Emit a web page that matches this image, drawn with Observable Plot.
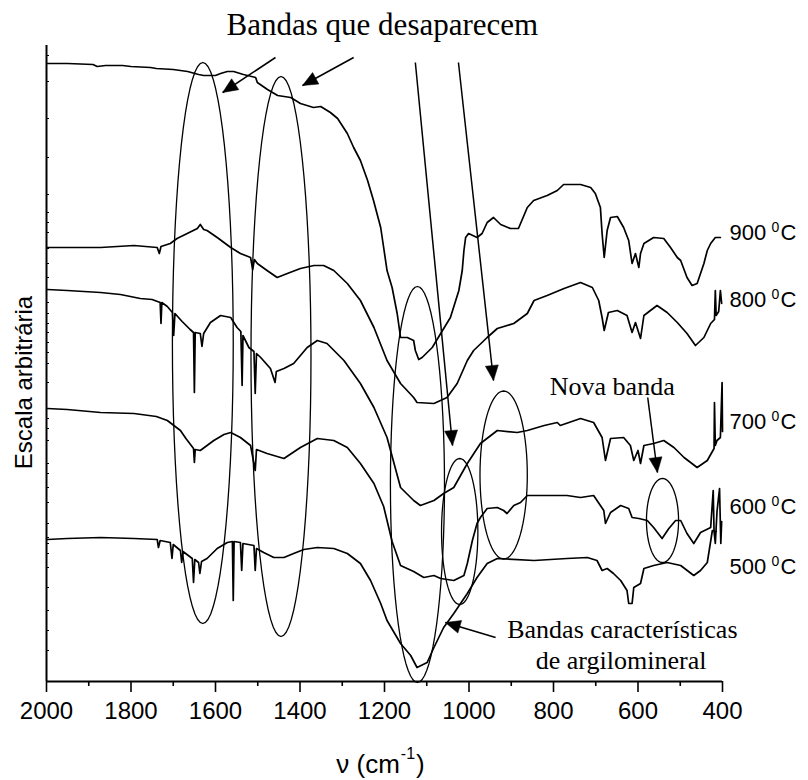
<!DOCTYPE html>
<html><head><meta charset="utf-8">
<script src="https://cdn.jsdelivr.net/npm/d3@7"></script>
<script src="https://cdn.jsdelivr.net/npm/@observablehq/plot@0.6"></script>
<style>
body{margin:0;background:#fff;}
#wrap{position:relative;width:808px;height:780px;background:#fff;}
#xlabel{position:absolute;left:0;top:752px;width:761px;text-align:center;font-family:"Liberation Sans",Arial,sans-serif;font-size:26px;line-height:24px;color:#000;white-space:nowrap;}
#xlabel span{font-size:16px;position:relative;top:-14px;margin:0 1px;}
</style></head><body>
<div id="wrap"><div id="chart"></div><div id="xlabel">ν (cm<span>-1</span>)</div></div>
<script>
// ---- data: wavenumber (cm-1), arbitrary intensity ----
const s900 = [[1998,618],[1950,618],[1890,617],[1880,615],[1860,616],[1820,616],[1800,615],[1754,614],[1740,613],[1700,612],[1666,610],[1640,607],[1628,606],[1600,606],[1588,608],[1572,610],[1557,610],[1534,607],[1505,604],[1501,599],[1477,592],[1453,586],[1422,584],[1399,578],[1368,574],[1351,575],[1328,569],[1311,563],[1288,548],[1273,534],[1257,521],[1240,501],[1226,481],[1209,454],[1202,434],[1194,411],[1182,394],[1170,368],[1162,344],[1146,344],[1131,341],[1127,331],[1119,322],[1111,324],[1087,334],[1067,348],[1044,364],[1024,391],[1016,411],[1012,431],[1008,444],[1001,448],[981,444],[969,448],[957,459],[942,464],[925,457],[902,453],[883,453],[862,474],[847,481],[815,486],[791,491],[776,497],[736,497],[712,494],[701,488],[689,474],[685,448],[680,424],[673,451],[665,464],[649,465],[634,454],[622,441],[614,418],[606,428],[598,414],[594,428],[586,438],[563,444],[539,443],[523,434],[507,424],[499,421],[484,404],[472,396],[460,398],[444,418],[436,431],[428,438],[417,444],[405,444]];
const s800 = [[1998,434],[1950,434],[1872,434],[1793,436],[1738,434],[1733,428],[1729,435],[1707,438],[1691,443],[1667,448],[1643,453],[1636,457],[1628,452],[1620,451],[1596,444],[1564,434],[1541,428],[1517,424],[1512,412],[1508,422],[1501,418],[1478,411],[1454,404],[1430,408],[1399,413],[1367,416],[1344,416],[1320,411],[1288,398],[1257,381],[1225,354],[1194,321],[1162,298],[1131,284],[1123,279],[1083,278],[1052,284],[1028,298],[1004,321],[989,331],[957,344],[933,353],[894,358],[862,368],[846,381],[815,386],[775,393],[736,399],[708,394],[693,381],[685,364],[680,351],[670,369],[649,371],[626,366],[614,349],[606,359],[594,343],[586,366],[555,376],[531,369],[507,359],[484,348],[464,336],[444,344],[428,358],[419,362],[417,391],[415,366],[409,370],[405,391],[402,378]];
const s700 = [[1998,392],[1951,391],[1872,389],[1825,387],[1778,383],[1750,382],[1731,379],[1729,358],[1727,379],[1714,375],[1702,369],[1699,346],[1696,368],[1679,360],[1660,352],[1652,349],[1650,289],[1648,349],[1636,348],[1632,335],[1628,348],[1612,359],[1588,366],[1564,364],[1549,354],[1540,350],[1537,296],[1535,346],[1521,334],[1509,330],[1506,288],[1503,328],[1493,324],[1470,313],[1459,299],[1456,310],[1438,313],[1415,318],[1383,334],[1359,341],[1336,338],[1296,321],[1257,298],[1225,274],[1194,244],[1162,194],[1131,181],[1115,176],[1083,181],[1060,188],[1036,194],[1004,218],[973,238],[933,251],[886,249],[862,251],[822,256],[791,259],[784,256],[736,263],[705,259],[685,244],[677,221],[665,243],[634,244],[618,236],[610,221],[600,231],[594,218],[586,236],[563,238],[539,241],[515,234],[491,224],[460,214],[436,221],[420,233],[419,279],[417,236],[413,241],[405,244],[401,299],[400,250]];
const s600 = [[1998,273],[1951,272],[1872,269],[1793,268],[1740,265],[1714,261],[1683,251],[1670,243],[1652,233],[1650,219],[1648,232],[1636,231],[1604,241],[1580,247],[1564,249],[1541,244],[1517,236],[1506,211],[1503,232],[1478,228],[1438,223],[1399,234],[1359,243],[1320,241],[1288,234],[1257,218],[1225,198],[1202,175],[1182,140],[1162,116],[1131,110],[1107,104],[1083,106],[1067,103],[1036,101],[1012,106],[1004,118],[992,141],[981,158],[973,164],[957,173],[933,174],[918,171],[910,168],[894,176],[878,179],[862,186],[768,186],[736,184],[705,186],[681,171],[677,158],[665,169],[641,176],[622,173],[614,164],[598,163],[578,161],[563,154],[543,143],[527,153],[511,161],[499,161],[484,148],[468,138],[452,149],[428,154],[422,191],[420,150],[417,138],[413,170],[407,193],[404,138],[402,160]];
const s500 = [[1998,142],[1951,143],[1872,144],[1793,143],[1738,142],[1735,134],[1731,141],[1707,139],[1703,123],[1700,137],[1683,131],[1680,119],[1677,130],[1655,123],[1652,99],[1649,122],[1640,119],[1637,108],[1633,120],[1620,123],[1596,133],[1572,139],[1560,140],[1558,81],[1556,140],[1541,139],[1538,111],[1535,138],[1509,136],[1506,111],[1503,133],[1486,129],[1462,124],[1438,124],[1415,128],[1391,132],[1359,134],[1320,133],[1288,128],[1257,118],[1233,101],[1209,78],[1194,61],[1162,38],[1138,26],[1123,14],[1099,19],[1083,34],[1060,54],[1036,68],[1004,88],[981,104],[957,118],[933,123],[846,121],[768,123],[720,124],[697,121],[685,111],[673,113],[658,108],[641,101],[626,91],[622,78],[614,78],[610,94],[594,98],[586,113],[563,116],[531,119],[499,116],[468,106],[452,111],[436,119],[424,151],[415,150]];

const seriesNames = ["900", "800", "700", "600", "500"];
const labelValues = [449, 382, 260, 175, 115];
const xMajorTicks = [2000, 1800, 1600, 1400, 1200, 1000, 800, 600, 400];
const xMinorTicks = [1900, 1700, 1500, 1300, 1100, 900, 700, 500];
const yTicks = [626,600,563,524,487,469,459,449,433,418,404,379,368,358,349,339,329,318,299,273,263,253,241,218,208,194,179,158,144,138,128,114,94,71,51,31];

// annotation shapes (data units)
const ellipses = [
  {id: "e1", cx: 1630, rx: 72, cy: 338.5, ry: 280.5},
  {id: "e2", cx: 1445, rx: 71, cy: 325, ry: 280},
  {id: "e3", cx: 1122, rx: 64, cy: 197, ry: 198},
  {id: "e4", cx: 1022, rx: 43, cy: 150, ry: 73},
  {id: "e5", cx: 918, rx: 56, cy: 206.5, ry: 84},
  {id: "e6", cx: 542, rx: 38, cy: 161, ry: 42}
];
const arrows = [
  {x1: 1458, y1: 624, x2: 1583, y2: 589},
  {x1: 1273, y1: 624, x2: 1394, y2: 596},
  {x1: 1127, y1: 619, x2: 1039, y2: 236},
  {x1: 1025, y1: 619, x2: 942, y2: 301},
  {x1: 577, y1: 284, x2: 554, y2: 209},
  {x1: 937, y1: 44, x2: 1056, y2: 59}
];
const notes = [
  {text: "Bandas que desaparecem", x: 1205, y: 656, big: true},
  {text: "Nova banda", x: 661, y: 295},
  {text: "Bandas características", x: 637, y: 52},
  {text: "de argilomineral", x: 640, y: 21}
];

// ---- build ----
const W = 808, H = 740, mL = 46, mR = 86, mT = 45, mB = 59;
const xDomain = [2000, 400], yDomain = [0, 636];
const series = [s900, s800, s700, s600, s500];
const table = series.flatMap((s, i) => s.map(([x, y]) => ({series: seriesNames[i], x, y})));
const labels = seriesNames.map((t, i) => ({t, y: labelValues[i]}));

const ellPts = ellipses.flatMap(e => d3.range(0, 73).map(i => {
  const t = i / 72 * 2 * Math.PI;
  return {id: e.id, x: e.cx + e.rx * Math.cos(t), y: e.cy + e.ry * Math.sin(t)};
}));

const kx = (W - mL - mR) / (xDomain[0] - xDomain[1]);
const ky = (H - mT - mB) / (yDomain[1] - yDomain[0]);
const angle = d => {
  const dx = -(d.x2 - d.x1) * kx, dy = -(d.y2 - d.y1) * ky;
  return Math.atan2(dx, -dy) * 180 / Math.PI;
};
const head = {draw(ctx) { ctx.moveTo(0, 0); ctx.lineTo(-6.5, 15); ctx.lineTo(6.5, 15); ctx.closePath(); }};

const sans = "Liberation Sans";
const serif = "Liberation Serif";

const chart = Plot.plot({
  width: W, height: H,
  marginLeft: mL, marginRight: mR, marginTop: mT, marginBottom: mB,
  style: {fontFamily: sans, color: "black", background: "white"},
  x: {domain: xDomain},
  y: {domain: yDomain},
  marks: [
    Plot.axisX(xMajorTicks, {tickSize: 11, tickPadding: 9, fontSize: 24, strokeWidth: 1.6, tickFormat: d => String(d), label: null}),
    Plot.axisX(xMinorTicks, {tickSize: 5, strokeWidth: 1.6, tickFormat: () => "", label: null}),
    Plot.axisY(yTicks, {tickSize: -3, strokeWidth: 1, tickFormat: () => "", label: null}),
    Plot.ruleY([0], {strokeWidth: 2}),
    Plot.ruleX([2000], {strokeWidth: 2}),
    Plot.line(table, {x: "x", y: "y", z: "series", stroke: "black", strokeWidth: 1.7}),
    Plot.line(ellPts, {x: "x", y: "y", z: "id", stroke: "black", strokeWidth: 1.3}),
    Plot.link(arrows, {x1: "x1", y1: "y1", x2: "x2", y2: "y2", stroke: "black", strokeWidth: 1.5}),
    Plot.dot(arrows, {x: "x2", y: "y2", symbol: head, rotate: angle, fill: "black", stroke: "black", strokeWidth: 0.5}),
    // series labels
    Plot.text(labels, {x: 400, y: "y", text: "t", dx: 7, textAnchor: "start", fontSize: 22}),
    Plot.text(labels, {x: 400, y: "y", text: () => "0", dx: 49, dy: -5, textAnchor: "start", fontSize: 14}),
    Plot.text(labels, {x: 400, y: "y", text: () => "C", dx: 58, textAnchor: "start", fontSize: 22}),
    // annotations
    Plot.text(notes, {x: "x", y: "y", text: "text", fontFamily: serif, fontSize: d => d.big ? 31 : 26}),
    Plot.text(["Escala arbitrária"], {x: 2000, y: 299, dx: -22, rotate: -90, fontSize: 24})
  ]
});
chart.querySelectorAll("text").forEach(t => {
  const g = t.closest("g[font-family]");
  if (g && g.getAttribute("font-family") === serif) t.style.fontFamily = "'Liberation Serif', serif";
});
document.getElementById("chart").appendChild(chart);
</script></body></html>
